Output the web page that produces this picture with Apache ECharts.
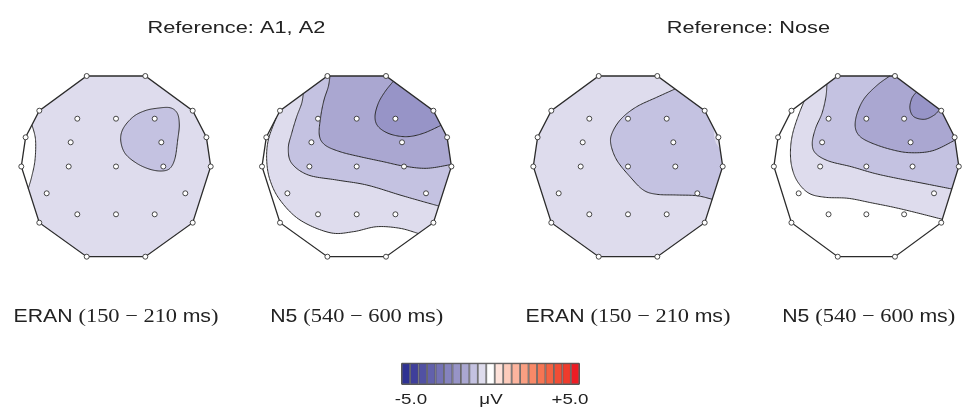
<!DOCTYPE html>
<html><head><meta charset="utf-8">
<script src="https://cdn.jsdelivr.net/npm/echarts@6/dist/echarts.min.js"></script>
<style>html,body{margin:0;padding:0;background:#fff}#c{width:964px;height:410px}</style>
</head><body><div id="c"></div>
<script>
// ---------- data ----------
const titles = ['Reference: A1, A2', 'Reference: Nose'];
const components = ['ERAN', 'N5', 'ERAN', 'N5'];
const windowsMs = ['150 − 210 ', '540 − 600 ', '150 − 210 ', '540 − 600 '];
const scaleLabels = ['-5.0', 'μV', '+5.0'];
// 21 colour steps from -5.0 to +5.0 µV
const scaleColors = ['#2e3192','#3f3f9b','#5151a3','#6261ac','#7472b5','#8583be','#9794c7','#aaa7d1','#c4c2e1','#dedced','#ffffff',
  '#fee2da','#fdcbbb','#fcb49e','#fa9f82','#f88968','#f67553','#f36242','#f14d35','#ef3b2c','#ed1c24'];
// electrode positions in head coordinates (x right, y down)
const electrodes = [[-29.3,-90.5],[29.3,-90.5],[76.7,-55.8],[90.4,-29.2],[94.7,0],[76.7,56.2],[29.3,90.2],[-29.3,90.2],[-76.7,56.2],[-94.7,0],[-90.4,-29.2],[-76.7,-55.8],
  [-38.7,-47.8],[0,-47.8],[38.7,-47.8],[-45.3,-24.2],[45.3,-24.2],[-47.3,0],[0,0],[47.3,0],[-69.3,26.8],[69.3,26.8],[-38.7,47.8],[0,47.8],[38.7,47.8]];
const headOutline = [[-29.3,-90.5],[29.3,-90.5],[76.7,-55.8],[90.4,-29.2],[94.7,0],[76.7,56.2],[29.3,90.2],[-29.3,90.2],[-76.7,56.2],[-94.7,0],[-90.4,-29.2],[-76.7,-55.8]];
// background level of every map (colour step offset from 0 µV)
const baseLevels = [-1, 0, -1, 0];
// contour areas: level, contour line points, head-outline points that close the area
const contoursEranA = [
  {level: 0, curve: [[-84,-41.5],[-80.5,-27],[-81,-6.5],[-84.3,10.2],[-87.7,22]], edge: [[-94.7,0],[-90.4,-29.2]]},
  {level: -2, closed: true, curve: [[40.7,-58.2],[54,-58.8],[61.3,-53.2],[63.3,-41.5],[61.7,-26.5],[59,-8.2],[54,1.8],[45.7,4.5],[34,2.8],[20.7,-3.2],[9,-13.2],[4.7,-26.5],[7.3,-38.2],[17.3,-49.8],[29,-55.8]], edge: []}
];
const contoursN5A = [
  {level: -1, curve: [[-80.7,-48.2],[-88.4,-26.5],[-90,-6.5],[-86.7,13.5],[-76.7,33.5],[-56.7,53.5],[-26.7,66.2],[-3.4,65.2],[20,60.2],[43.3,61.8],[61.6,67]],
   edge: [[76.7,56.2],[94.7,0],[90.4,-29.2],[76.7,-55.8],[29.3,-90.5],[-29.3,-90.5],[-76.7,-55.8]]},
  {level: -2, curve: [[-53.4,-72.9],[-55,-63.2],[-60,-49.8],[-65,-33.2],[-68.4,-18.2],[-65,-3.2],[-48.4,8.5],[-20,13.5],[10,18.5],[43.3,28.5],[66.6,35.2],[82.1,39.5]],
   edge: [[94.7,0],[90.4,-29.2],[76.7,-55.8],[29.3,-90.5],[-29.3,-90.5]]},
  {level: -3, curve: [[-26.7,-90.5],[-28.4,-79.8],[-32.7,-66.5],[-36,-49.8],[-37.4,-31.5],[-31.7,-21.5],[-16.7,-14.8],[3.3,-9.8],[26.6,-4.8],[46.6,-0.5],[70,1.8],[94.5,-2]],
   edge: [[90.4,-29.2],[76.7,-55.8],[29.3,-90.5]]},
  {level: -4, curve: [[36.6,-85.2],[28.3,-74.8],[21.6,-63.2],[18.3,-49.8],[21.6,-39.8],[33.3,-32.5],[50,-29.8],[66.6,-33.2],[84.4,-41.2]],
   edge: [[76.7,-55.8]]}
];
const contoursEranNose = [
  {level: -2, curve: [[47,-77.5],[28.7,-69.2],[8.7,-59.8],[-6.3,-48.2],[-15.3,-34.8],[-17.3,-23.2],[-11.3,-6.5],[2,10.2],[15.3,23.5],[28.7,27.8],[48.7,28.5],[68.7,29.2],[84.3,32.8]],
   edge: [[94.7,0],[92.3,-17.2],[88,-23.2],[86,-29.8],[85.8,-38.2],[76.7,-55.8]]}
];
const contoursN5Nose = [
  {level: -1, curve: [[-63.7,-65.3],[-69.4,-51.5],[-75.4,-33.2],[-77.7,-16.5],[-76.4,0.2],[-70.4,15.2],[-58.7,26.8],[-42,30.8],[-18.7,31.8],[4.6,36.2],[28,40.8],[51.3,46.2],[77.8,52.8]],
   edge: [[94.7,0],[90.4,-29.2],[76.7,-55.8],[29.3,-90.5],[-29.3,-90.5]]},
  {level: -2, curve: [[-40.4,-82.4],[-41.4,-69.8],[-45.4,-53.2],[-52,-38.2],[-55.4,-23.2],[-52,-13.2],[-38.7,-5.5],[-15.4,0.2],[8,6.8],[31.3,11.8],[58,16.8],[87.7,22.5]],
   edge: [[94.7,0],[90.4,-29.2],[76.7,-55.8],[29.3,-90.5],[-29.3,-90.5]]},
  {level: -3, curve: [[24,-90.5],[11.3,-81.5],[-2,-68.2],[-9.4,-53.2],[-11.4,-39.8],[-7,-30.5],[4.6,-23.8],[24.6,-17.2],[44.6,-13.8],[68,-15.8],[91,-26.5]],
   edge: [[90.4,-29.2],[76.7,-55.8],[29.3,-90.5]]},
  {level: -4, curve: [[51.3,-74.4],[46.6,-68.2],[44.6,-58.2],[48.6,-49.8],[59.6,-47.2],[69.6,-51.5],[75,-57]], edge: []}
];

// ---------- layout ----------
const mapContours = [contoursEranA, contoursN5A, contoursEranNose, contoursN5Nose];
const centersX = [116, 356.7, 628, 868.7];
const centerY = 166.5;
const LINE = '#2b2b2b';

function colorOf(level) { return scaleColors[10 + level]; }

function catmull(pts, closed, n) {
  const out = []; const N = pts.length;
  if (N < 2) return pts.slice();
  const get = i => closed ? pts[(i + N) % N] : pts[Math.max(0, Math.min(N - 1, i))];
  const segs = closed ? N : N - 1;
  for (let i = 0; i < segs; i++) {
    const p0 = get(i - 1), p1 = get(i), p2 = get(i + 1), p3 = get(i + 2);
    for (let t = 0; t < n; t++) {
      const s = t / n, s2 = s * s, s3 = s2 * s;
      const f = k => 0.5 * (2 * p1[k] + (-p0[k] + p2[k]) * s + (2 * p0[k] - 5 * p1[k] + 4 * p2[k] - p3[k]) * s2 + (-p0[k] + 3 * p1[k] - 3 * p2[k] + p3[k]) * s3);
      out.push([f(0), f(1)]);
    }
  }
  if (!closed) out.push(pts[N - 1]);
  return out;
}

const grids = [], xAxes = [], yAxes = [], series = [];
centersX.forEach((cx, m) => {
  grids.push({left: cx - 100, top: centerY - 100, width: 200, height: 200});
  xAxes.push({gridIndex: m, type: 'value', min: -100, max: 100, show: false});
  yAxes.push({gridIndex: m, type: 'value', min: -100, max: 100, inverse: true, show: false});
  const areas = [{level: baseLevels[m], curve: [], edge: headOutline}].concat(mapContours[m]);
  series.push({
    type: 'custom', xAxisIndex: m, yAxisIndex: m, silent: true, z: 1,
    data: areas.map((a, k) => [0, 0, k]),
    renderItem: function (params, api) {
      const a = areas[params.dataIndex];
      const cpx = a.curve.map(p => api.coord(p));
      const smooth = cpx.length ? catmull(cpx, !!a.closed, 14) : [];
      const poly = a.closed ? smooth : smooth.concat(a.edge.map(p => api.coord(p)));
      const children = [{type: 'polygon', shape: {points: poly}, style: {fill: colorOf(a.level), stroke: null}}];
      if (smooth.length) {
        children.push(a.closed
          ? {type: 'polygon', shape: {points: smooth}, style: {fill: null, stroke: LINE, lineWidth: 1}}
          : {type: 'polyline', shape: {points: smooth}, style: {fill: null, stroke: LINE, lineWidth: 1}});
      }
      return {type: 'group', children: children};
    }
  });
  series.push({
    type: 'custom', xAxisIndex: m, yAxisIndex: m, silent: true, z: 2,
    data: [[0, 0]],
    renderItem: function (params, api) {
      return {type: 'polygon', shape: {points: headOutline.map(p => api.coord(p))}, style: {fill: null, stroke: LINE, lineWidth: 1.3}};
    }
  });
  series.push({
    type: 'scatter', xAxisIndex: m, yAxisIndex: m, silent: true, z: 3,
    data: electrodes, symbol: 'circle', symbolSize: 5,
    itemStyle: {color: '#ffffff', borderColor: '#333', borderWidth: 0.9, opacity: 1}
  });
});
// colour scale
grids.push({left: 401.7, top: 363.3, width: 177.6, height: 21, show: true, borderColor: '#333', borderWidth: 1, backgroundColor: 'transparent'});
xAxes.push({gridIndex: 4, type: 'category', data: scaleColors.map((c, i) => i), show: false});
yAxes.push({gridIndex: 4, type: 'value', min: 0, max: 1, show: false});
series.push({
  type: 'bar', xAxisIndex: 4, yAxisIndex: 4, silent: true, barWidth: '100%', z: 1,
  data: scaleColors.map(c => ({value: 1, itemStyle: {color: c}})),
  itemStyle: {borderColor: '#555', borderWidth: 0.8}
});

const SANS = '"Liberation Sans", Arial, Helvetica, sans-serif';
const SERIF = '"Liberation Serif", "Times New Roman", serif';
const graphic = [];
function txt(x, y, text, size, sx, extra) {
  const style = Object.assign({text: text, x: 0, y: 0, fill: '#222', font: size + 'px ' + SANS,
    textAlign: 'center', align: 'center', textVerticalAlign: 'middle', verticalAlign: 'middle'}, extra || {});
  graphic.push({type: 'text', x: x, y: y, scaleX: sx, scaleY: 1, originX: 0, originY: 0, silent: true, style: style});
}
txt((centersX[0] + centersX[1]) / 2, 28, titles[0], 17, 1.28);
txt((centersX[2] + centersX[3]) / 2, 28, titles[1], 17, 1.28);
centersX.forEach((cx, m) => {
  txt(cx, 317, '{s|' + components[m] + ' }{r|(' + windowsMs[m] + '}{s|ms}{r|)}', 18, 1.18, {
    rich: {
      s: {fontFamily: SANS, fontSize: 18, fill: '#222', color: '#222'},
      r: {fontFamily: SERIF, fontSize: 19, fill: '#222', color: '#222'}
    }
  });
});
txt(411, 400, scaleLabels[0], 15, 1.25);
txt(491, 400, scaleLabels[1], 15, 1.25);
txt(570, 400, scaleLabels[2], 15, 1.25);

const chart = echarts.init(document.getElementById('c'), null, {renderer: 'canvas'});
chart.setOption({
  animation: false,
  backgroundColor: '#ffffff',
  grid: grids, xAxis: xAxes, yAxis: yAxes, series: series, graphic: graphic
});
</script>
</body></html>
